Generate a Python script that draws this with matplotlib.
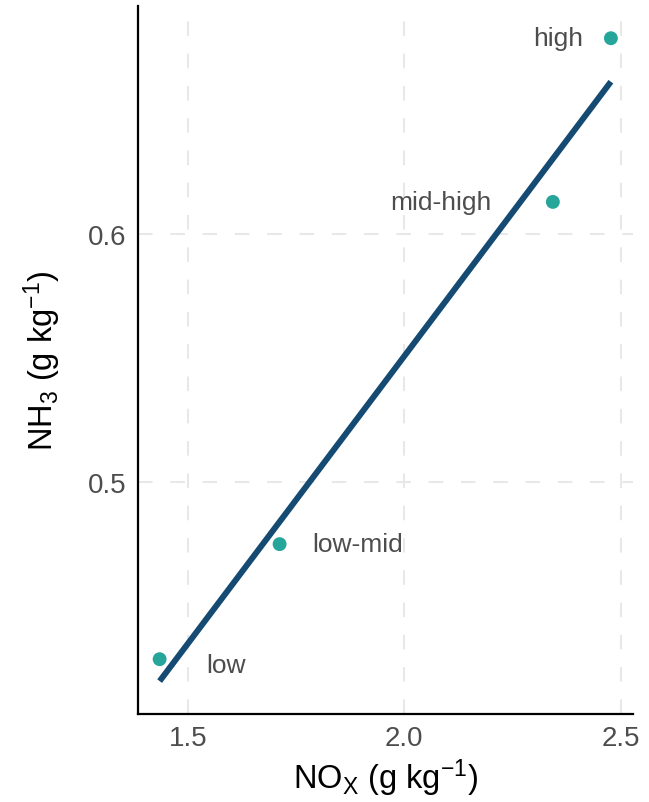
import numpy as np
import matplotlib
matplotlib.use("Agg")
import matplotlib.pyplot as plt

plt.rcParams['font.family'] = ['Liberation Sans', 'DejaVu Sans']
plt.rcParams['mathtext.fontset'] = 'custom'
plt.rcParams['mathtext.rm'] = 'Liberation Sans'
plt.rcParams['mathtext.it'] = 'Liberation Sans:italic'

# emission factor groups
groups = ['low', 'low-mid', 'mid-high', 'high']
nox = [1.435, 1.712, 2.343, 2.477]
nh3 = [0.4286, 0.475, 0.613, 0.679]

# linear fit line (lm over the group means)
slope, icpt = np.polyfit(nox, nh3, 1)
fit_x = np.array([min(nox), max(nox)])
fit_y = slope * fit_x + icpt

fig = plt.figure(figsize=(6.49, 8.03), dpi=100)
ax = fig.add_axes([0.2126, 0.1096, 0.7627, 0.8817])

ax.grid(True, color='#e8e8e8', linewidth=1.5, linestyle=(0, (7, 8.5)))
ax.set_axisbelow(True)

ax.plot(fit_x, fit_y, color='#154a73', linewidth=4.3, solid_capstyle='butt', zorder=2)
ax.scatter(nox, nh3, s=100, color='#26a69a', edgecolors='none', zorder=3)

# labels next to points (offsets in pixels)
offsets = {'low': (47, -6, 'left'), 'low-mid': (33, 0, 'left'),
           'mid-high': (-61, 0, 'right'), 'high': (-28, 0, 'right')}
for g, x, y in zip(groups, nox, nh3):
    dx, dy, ha = offsets[g]
    ax.annotate(g, (x, y), xytext=(dx * 0.72, dy * 0.72), textcoords='offset points',
                ha=ha, va='center', fontsize=19, color='#4d4d4d')

ax.set_xlim(1.385, 2.528)
ax.set_ylim(0.4065, 0.692)
ax.set_xticks([1.5, 2.0, 2.5])
ax.set_yticks([0.5, 0.6])
ax.set_xticklabels(['1.5', '2.0', '2.5'])
ax.set_yticklabels(['0.5', '0.6'])
ax.tick_params(length=0, labelsize=20, labelcolor='#4d4d4d', pad=8)

for side in ['top', 'right']:
    ax.spines[side].set_visible(False)
for side in ['left', 'bottom']:
    ax.spines[side].set_linewidth(1.6)
    ax.spines[side].set_color('black')

ax.set_xlabel(r'NO$_{\mathregular{X}}$ (g kg$^{\mathregular{-1}}$)', fontsize=23.5, labelpad=4)
ax.set_ylabel(r'NH$_{\mathregular{3}}$ (g kg$^{\mathregular{-1}}$)', fontsize=23.5, labelpad=18)

fig.savefig('out.png', dpi=100)
